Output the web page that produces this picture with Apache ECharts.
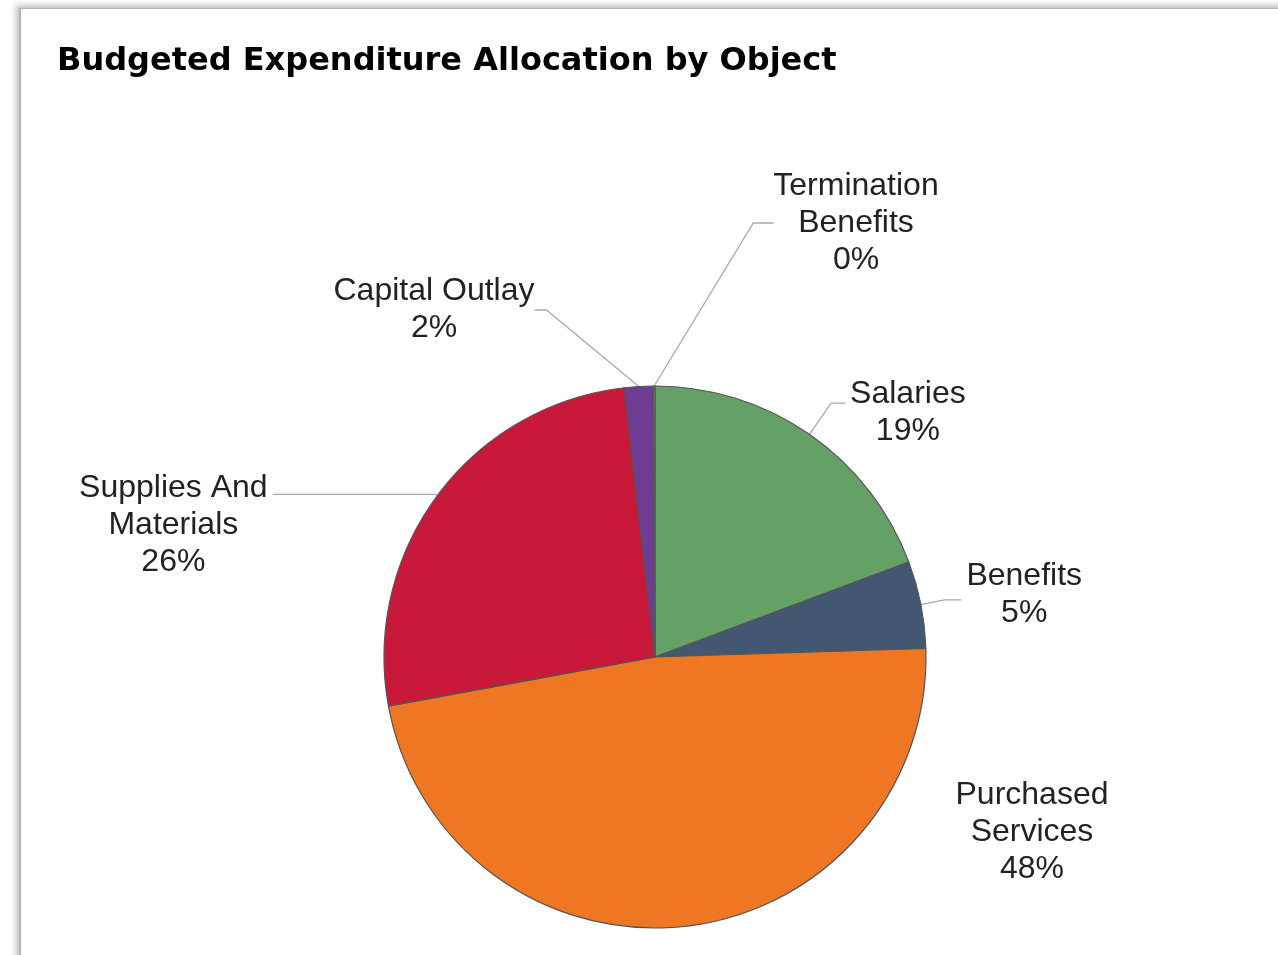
<!DOCTYPE html>
<html>
<head>
<meta charset="utf-8">
<title>Budgeted Expenditure Allocation by Object</title>
<script src="https://cdn.jsdelivr.net/npm/echarts/dist/echarts.min.js"></script>
<style>
    html, body { margin: 0; padding: 0; background: #fff; overflow: hidden; }
    #frame {
        position: absolute; left: 19px; top: 8px; width: 1320px; height: 1000px;
        background: #fff; border-top: 1px solid #b5b5b5; border-left: 2px solid #b5b5b5;
        box-shadow: 0 0 6px 3px rgba(0, 0, 0, 0.25);
    }
    #main { position: absolute; left: 0; top: 0; width: 1278px; height: 955px; }
</style>
</head>
<body>
<div id="frame"></div>
<div id="main"></div>
<script>
var option
var myChart

// 数据
var categories = ['Salaries', 'Benefits', 'Purchased\nServices', 'Supplies And\nMaterials', 'Capital Outlay', 'Termination\nBenefits'];
var shares = [19.3, 5.2, 47.6, 26.1, 1.7, 0.1];
var colors = ['#65a166', '#435773', '#ef7622', '#c8193a', '#6f3c93', '#8a8a8a'];

// label line sizes, text offsets, and spots for labels moved off the default layout
var lineLen = [38, 24, 20, 2, 20, 20];
var lineLen2 = [14, 17, 10, 163, 12, 20];
var textPad = [[20, 0, 0, 0], [0, 0, 10, 0], 0, [62, 0, 0, 0], 0, 0];
var labelSpots = { 2: [1032, 832], 4: [434, 310], 5: [856, 223] };

function buildData() {
    var list = [];
    for (var i = 0; i < categories.length; i++) {
        list.push({
            name: categories[i],
            value: shares[i],
            itemStyle: { color: colors[i] },
            label: { padding: textPad[i] },
            labelLine: { show: i != 2, length: lineLen[i], length2: lineLen2[i] }
        });
    }
    return list;
}

function initChart() {
    myChart = echarts.init(document.getElementById('main'));
    option = {
        animation: false,
        title: {
            text: 'Budgeted Expenditure Allocation by Object',
            left: 57,
            top: 46,
            padding: 0,
            textStyle: {
                fontFamily: 'DejaVu Sans',
                fontWeight: 'bold',
                fontSize: 32,
                color: '#000'
            }
        },
        series: [{
            type: 'pie',
            center: [655, 657],
            radius: 271,
            startAngle: 90,
            clockwise: true,
            avoidLabelOverlap: false,
            itemStyle: { borderColor: '#555', borderWidth: 1.2 },
            label: {
                show: true,
                position: 'outside',
                edgeDistance: 0,
                distanceToLabelLine: 5,
                formatter: function (p) {
                    var lines = p.name.split('\n');
                    lines.push(Math.round(p.percent) + '%');
                    return lines.map(function (s) { return '{a|' + s + '}'; }).join('\n');
                },
                rich: {
                    a: {
                        align: 'center',
                        fontFamily: 'Liberation Sans, Arial, sans-serif',
                        fontSize: 32,
                        lineHeight: 37,
                        color: '#222'
                    }
                }
            },
            labelLine: {
                lineStyle: { color: '#a9a9a9', width: 1.3 }
            },
            labelLayout: function (params) {
                var spot = labelSpots[params.dataIndex];
                if (!spot) {
                    return {};
                }
                return { x: spot[0], y: spot[1], align: 'center', verticalAlign: 'middle' };
            },
            data: buildData()
        }]
    };
    myChart.setOption(option);
}

initChart();
</script>
</body>
</html>
